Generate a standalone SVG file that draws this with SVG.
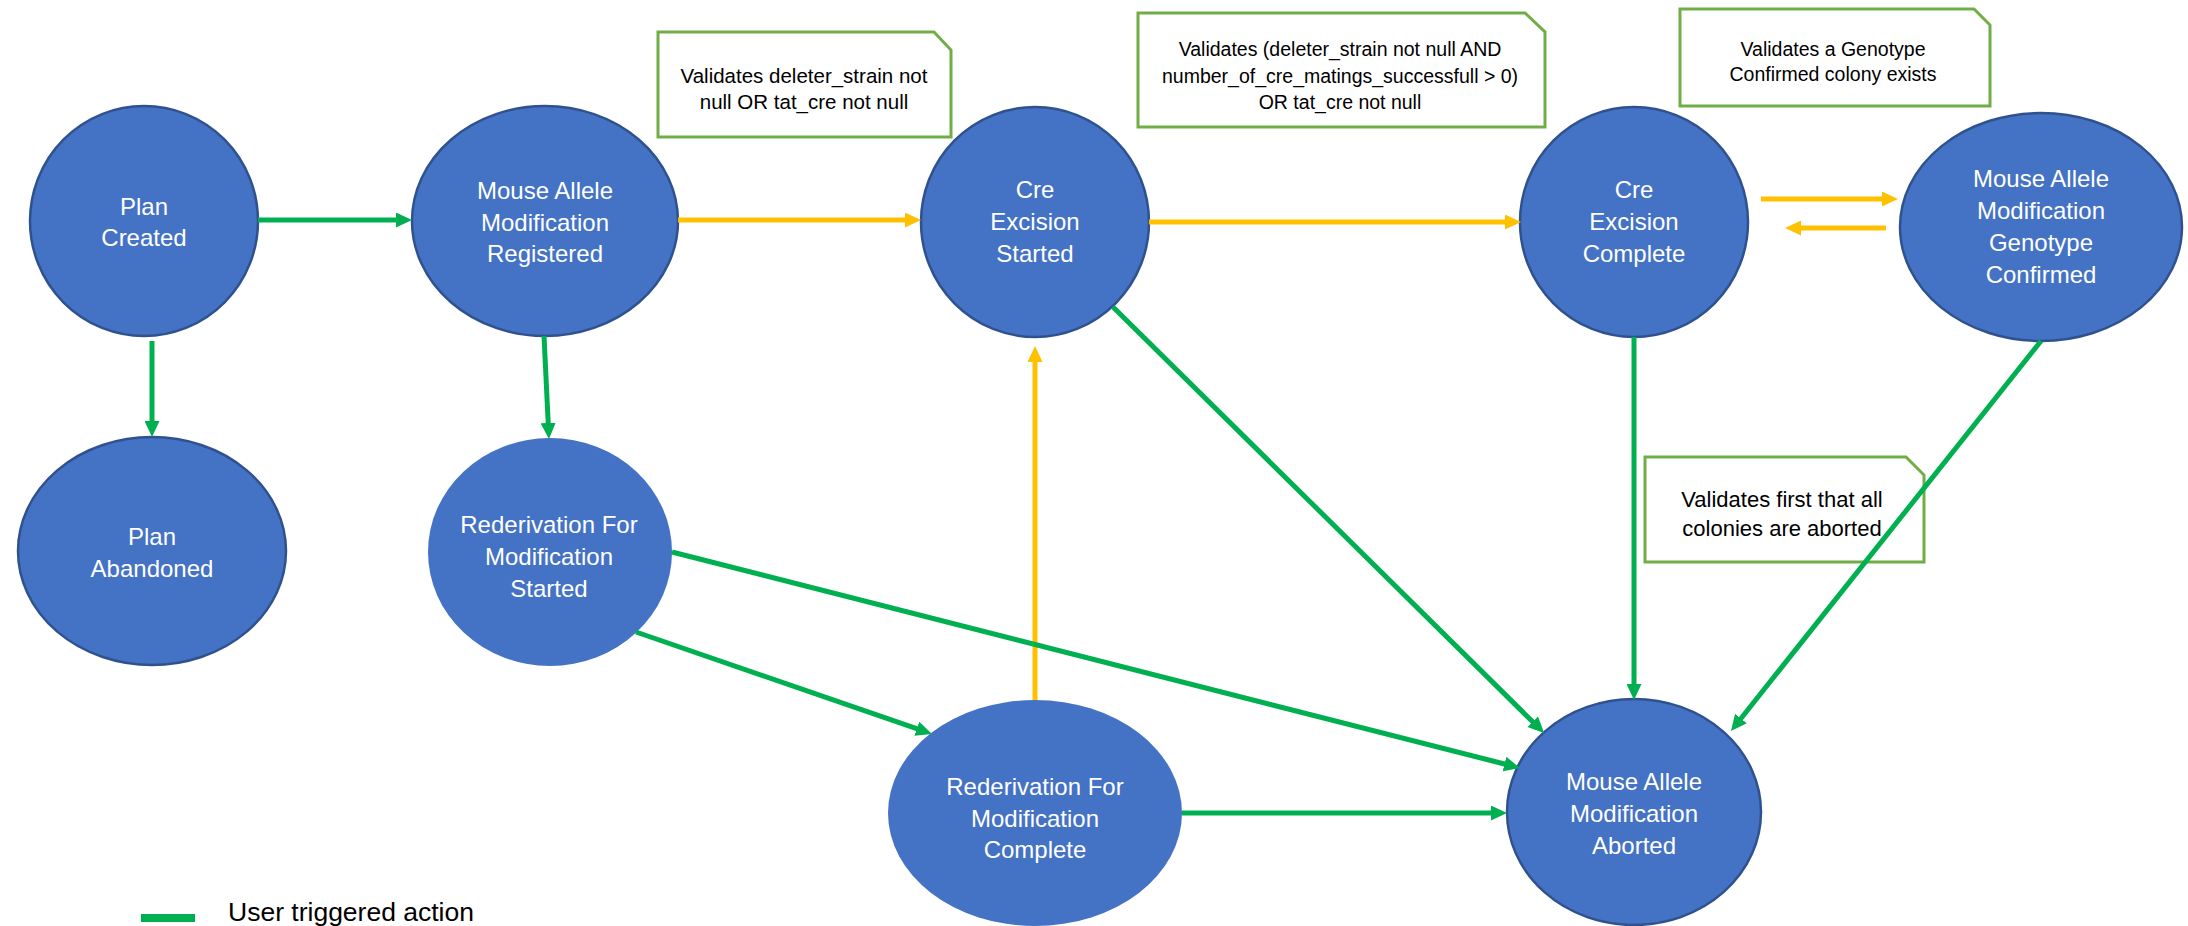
<svg xmlns="http://www.w3.org/2000/svg" width="2188" height="926" viewBox="0 0 2188 926">
  <style>
    .state { fill: #4472C4; stroke: #2F528F; stroke-width: 2.5; }
    .state.plain { stroke: none; }
    .label { font-family: "Liberation Sans", Arial, sans-serif; font-size: 24px; fill: #FFFFFF; text-anchor: middle; }
    .note { fill: #FFFFFF; stroke: #70AD47; stroke-width: 3; }
    .note-text { font-family: "Liberation Sans", Arial, sans-serif; font-size: 19.5px; fill: #000000; text-anchor: middle; }
    .user { stroke: #00B050; stroke-width: 5; fill: none; marker-end: url(#head-green); }
    .auto { stroke: #FFC000; stroke-width: 5; fill: none; marker-end: url(#head-yellow); }
    .legend-text { font-family: "Liberation Sans", Arial, sans-serif; font-size: 26.5px; fill: #000000; }
  </style>
  <defs>
    <marker id="head-green" markerUnits="userSpaceOnUse" viewBox="0 0 16 15" markerWidth="16" markerHeight="15" refX="6" refY="7.5" orient="auto">
      <path d="M0,0 L16,7.5 L0,15 z" fill="#00B050"/>
    </marker>
    <marker id="head-yellow" markerUnits="userSpaceOnUse" viewBox="0 0 16 15" markerWidth="16" markerHeight="15" refX="6" refY="7.5" orient="auto">
      <path d="M0,0 L16,7.5 L0,15 z" fill="#FFC000"/>
    </marker>
  </defs>

  <rect width="2188" height="926" fill="#FFFFFF"/>

  <!-- validation notes -->
  <g id="note-cre-start">
    <path class="note" d="M658,32 H934 L951,50 V137 H658 Z"/>
    <text class="note-text" x="804" y="83" style="font-size:20.5px">Validates deleter_strain not</text>
    <text class="note-text" x="804" y="109" style="font-size:20.5px">null OR tat_cre not null</text>
  </g>
  <g id="note-cre-complete">
    <path class="note" d="M1138,13 H1525 L1545,32 V127 H1138 Z"/>
    <text class="note-text" x="1340" y="56">Validates (deleter_strain not null AND</text>
    <text class="note-text" x="1340" y="83">number_of_cre_matings_successfull &gt; 0)</text>
    <text class="note-text" x="1340" y="109">OR tat_cre not null</text>
  </g>
  <g id="note-genotype">
    <path class="note" d="M1680,9 H1974 L1990,25 V106 H1680 Z"/>
    <text class="note-text" x="1833" y="56">Validates a Genotype</text>
    <text class="note-text" x="1833" y="81">Confirmed colony exists</text>
  </g>
  <g id="note-aborted">
    <path class="note" d="M1645,457 H1906 L1924,475 V562 H1645 Z"/>
    <text class="note-text" x="1782" y="507" style="font-size:22px">Validates first that all</text>
    <text class="note-text" x="1782" y="536" style="font-size:22px">colonies are aborted</text>
  </g>

  <!-- states -->
  <g id="plan-created">
    <ellipse class="state" cx="144" cy="221" rx="114" ry="115"/>
    <text class="label" x="144" y="215">Plan</text>
    <text class="label" x="144" y="246">Created</text>
  </g>
  <g id="plan-abandoned">
    <ellipse class="state" cx="152" cy="551" rx="134" ry="114"/>
    <text class="label" x="152" y="545">Plan</text>
    <text class="label" x="152" y="577">Abandoned</text>
  </g>
  <g id="mam-registered">
    <ellipse class="state" cx="545" cy="221" rx="133" ry="115"/>
    <text class="label" x="545" y="199">Mouse Allele</text>
    <text class="label" x="545" y="231">Modification</text>
    <text class="label" x="545" y="262">Registered</text>
  </g>
  <g id="rederivation-started">
    <ellipse class="state plain" cx="550" cy="552" rx="122" ry="114"/>
    <text class="label" x="549" y="533">Rederivation For</text>
    <text class="label" x="549" y="565">Modification</text>
    <text class="label" x="549" y="597">Started</text>
  </g>
  <g id="cre-excision-started">
    <ellipse class="state" cx="1035" cy="222" rx="114" ry="115"/>
    <text class="label" x="1035" y="198">Cre</text>
    <text class="label" x="1035" y="230">Excision</text>
    <text class="label" x="1035" y="262">Started</text>
  </g>
  <g id="rederivation-complete">
    <ellipse class="state plain" cx="1035" cy="813" rx="147" ry="113"/>
    <text class="label" x="1035" y="795">Rederivation For</text>
    <text class="label" x="1035" y="827">Modification</text>
    <text class="label" x="1035" y="858">Complete</text>
  </g>
  <g id="cre-excision-complete">
    <ellipse class="state" cx="1634" cy="222" rx="114" ry="115"/>
    <text class="label" x="1634" y="198">Cre</text>
    <text class="label" x="1634" y="230">Excision</text>
    <text class="label" x="1634" y="262">Complete</text>
  </g>
  <g id="mam-genotype-confirmed">
    <ellipse class="state" cx="2041" cy="227" rx="141" ry="114"/>
    <text class="label" x="2041" y="187">Mouse Allele</text>
    <text class="label" x="2041" y="219">Modification</text>
    <text class="label" x="2041" y="251">Genotype</text>
    <text class="label" x="2041" y="283">Confirmed</text>
  </g>
  <g id="mam-aborted">
    <ellipse class="state" cx="1634" cy="812" rx="127" ry="113"/>
    <text class="label" x="1634" y="790">Mouse Allele</text>
    <text class="label" x="1634" y="822">Modification</text>
    <text class="label" x="1634" y="854">Aborted</text>
  </g>

  <!-- transitions -->
  <g id="connectors">
    <line class="user" x1="258" y1="220" x2="402" y2="220"/>
    <line class="user" x1="152" y1="341" x2="152" y2="427"/>
    <line class="user" x1="544" y1="336" x2="548.5" y2="429"/>
    <line class="auto" x1="678" y1="220" x2="911" y2="220"/>
    <line class="auto" x1="1149" y1="222" x2="1511" y2="222"/>
    <line class="auto" x1="1761" y1="199" x2="1888" y2="199"/>
    <line class="auto" x1="1886" y1="228" x2="1795" y2="228"/>
    <line class="auto" x1="1035" y1="700" x2="1035" y2="356"/>
    <line class="user" x1="1113" y1="307" x2="1537" y2="726"/>
    <line class="user" x1="1634" y1="337" x2="1634" y2="690"/>
    <line class="user" x1="2041" y1="341" x2="1737.2" y2="723.2"/>
    <line class="user" x1="672" y1="552" x2="1510.3" y2="765.5"/>
    <line class="user" x1="636" y1="632" x2="922.5" y2="730.7"/>
    <line class="user" x1="1182" y1="813" x2="1497" y2="813"/>
  </g>

  <!-- legend -->
  <g id="legend">
    <rect x="141" y="914" width="54" height="8" fill="#00B050"/>
    <text class="legend-text" x="228" y="921">User triggered action</text>
  </g>
</svg>
